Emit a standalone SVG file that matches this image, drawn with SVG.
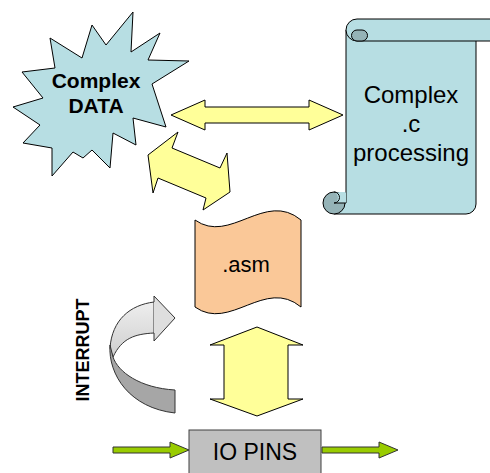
<svg xmlns="http://www.w3.org/2000/svg" width="490" height="473" viewBox="0 0 490 473">
<defs>
<style>
.ln{stroke:#000;stroke-width:1;stroke-linejoin:round}
.blue{fill:#b7dee3}
.dark{fill:#95b3b7}
.yel{fill:#ffff99;stroke:#000;stroke-width:1;stroke-linejoin:miter}
.t{font-family:"Liberation Sans",Arial,sans-serif;fill:#000}
.grn{fill:#99cc00;stroke:#333;stroke-width:1}
</style>
<linearGradient id="gl" x1="0" y1="0" x2="0" y2="1">
<stop offset="0" stop-color="#eeeeee"/>
<stop offset="1" stop-color="#cfcfcf"/>
</linearGradient>
</defs>
<g id="complex-data">
<polygon class="ln blue" points="133,12 131,52 160,33 148,60 189,61 152,84 166,127 133,118 136,145 113,133 110,168 92,150 83,158 73,152 52,176 52,148 23,143 40,125 13,107 43,98 22,72 55,68 50,38 82,58 92,25 106,45"/>
<text class="t" x="96" y="88" font-size="21" font-weight="bold" text-anchor="middle">Complex</text>
<text class="t" x="96" y="113" font-size="21" font-weight="bold" text-anchor="middle">DATA</text>
</g>
<g id="c-processing">
<path class="blue" d="M346,30 H476 V204 A10,10 0 0 1 466,214 H334 V192 H346 Z"/>
<path class="ln" fill="none" d="M346,30 V203 M476,41 V204 A10,10 0 0 1 466,214 H334"/>
<path class="ln blue" d="M357,19 H496 V41 H357"/>
<path class="ln blue" d="M357,41 A11,11 0 0 1 357,19"/>
<path class="ln dark" d="M357,30 H362 A5.5,5.5 0 0 1 362,41 H357 A5.5,5.5 0 0 1 357,30 Z"/>
<circle class="ln dark" cx="334" cy="203" r="11"/>
<path class="blue" d="M346,192.5 H334 A5.5,5.5 0 0 1 334,203 H346 Z"/>
<path class="ln" fill="none" d="M334,192 A5.5,5.5 0 0 1 334,203 H346"/>
<text class="t" x="411" y="103" font-size="24" text-anchor="middle">Complex</text>
<text class="t" x="411" y="132" font-size="24" text-anchor="middle">.c</text>
<text class="t" x="411" y="161" font-size="24" text-anchor="middle">processing</text>
</g>
<g id="asm">
<path class="ln" fill="#fac898" d="M195,220 C230,245 265,190 301,220 V307 C265,277 230,332 195,307 Z"/>
<text class="t" x="246" y="272" font-size="22" text-anchor="middle">.asm</text>
</g>
<g id="io-pins">
<rect x="189" y="430" width="132" height="50" fill="#c0c0c0" stroke="#404040" stroke-width="1"/>
<text class="t" x="255" y="460" font-size="23" text-anchor="middle">IO PINS</text>
</g>
<g id="interrupt">
<path d="M154,302 C130,305 112,320 110,348 L113,357 C122,338 135,334 154,333 Z" fill="url(#gl)" stroke="#333" stroke-width="1"/>
<path d="M110,345 C108,375 130,408 175,413 V390 C140,388 118,372 113,357 Z" fill="#a6a6a6" stroke="#333" stroke-width="1"/>
<path d="M154,302 V296 L175,318 L154,341 V333" fill="#dedede" stroke="#333" stroke-width="1"/>
<text class="t" font-size="18" font-weight="bold" text-anchor="middle" transform="translate(89,350) rotate(-90)">INTERRUPT</text>
</g>
<g id="connectors">
<polygon class="yel" points="171,115 205,100 205,107 309,107 309,100 343,115 309,130 309,123 205,123 205,130"/>
<polygon class="yel" points="178,132 172,148 220,168 227,153 230,192 203,210 206,198 158,178 153,193 148,155"/>
<polygon class="yel" points="257,327 303,345 288,345 288,399 303,399 257,416 210,399 224,399 224,345 210,345"/>
<polygon class="grn" points="113,447 170,447 170,442 189,450 170,458 170,453 113,453"/>
<polygon class="grn" points="322,447 379,447 379,442 398,450 379,458 379,453 322,453"/>
</g>
</svg>
